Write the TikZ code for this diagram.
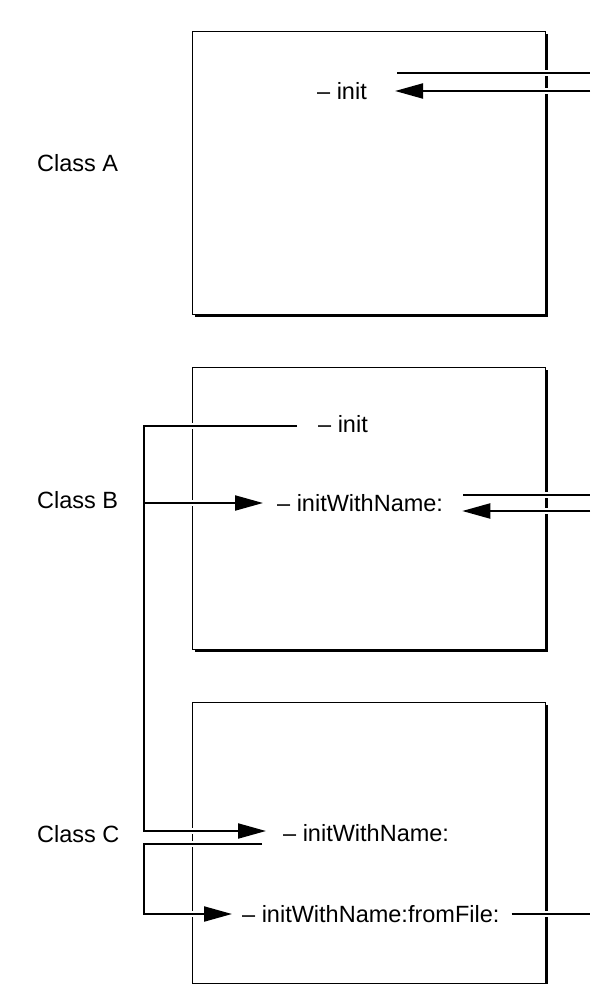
\documentclass[tikz,border=0pt]{standalone}
\usepackage{fontspec}
\setmainfont{Liberation Sans}
\usepackage{tikz}
\usetikzlibrary{positioning}
\usetikzlibrary{arrows.meta,shadows}

\tikzset{
  klasse/.style={draw, line width=1.4pt, fill=white, anchor=north west,
    minimum width=353pt, inner sep=0pt,
    drop shadow={shadow xshift=2pt, shadow yshift=-2pt, opacity=1, fill=black}},
  methode/.style={anchor=west, inner sep=0pt},
  leitung/.style={line width=2.1pt,
    preaction={draw=white, line width=6.5pt, -, shorten <=#1}},
  leitung/.default=0pt
}

\begin{document}
\begin{tikzpicture}[x=1pt, y=-1pt,
  font=\fontsize{23.5}{28}\selectfont,
  >={Triangle[length=28pt,width=15pt]}   % Pfeilspitzen
]
\def\xend{590}
\def\xspine{144}
\useasboundingbox (0,0) rectangle (590,984);

% Rand rechts und senkrechte Leitung links
\coordinate (rand) at (\xend,0);
\coordinate (spine) at (\xspine,0);

% Klassen
\node[klasse, minimum height=283pt] (boxA) at (192,31) {};
\node[klasse, minimum height=282pt] (boxB) at (192,367) {};
\node[klasse, minimum height=281pt] (boxC) at (192,702) {};

\node[methode] (classA) at (37,163) {Class A};
\node[methode] (classB) at (37,500) {Class B};
\node[methode] (classC) at (37,834) {Class C};

% Methoden
\node[methode] (initA) at (317,91) {– init};
\node[methode] (initB) at (318,424) {– init};
\node[methode] (nameB) at (277,503) {– initWithName:};
\node[methode] (nameC) at (283,833) {– initWithName:};
\node[methode] (fileC) at (242,914) {– initWithName:fromFile:};

% Klasse A
\draw[leitung] ([xshift=30pt,yshift=18pt]initA.east) coordinate (a1) -- (a1 -| rand);
\draw[leitung,->] (initA.east -| rand) -- ([xshift=28pt]initA.east);

% Klasse B
\draw[leitung] ([xshift=20pt,yshift=8pt]nameB.east) coordinate (b1) -- (b1 -| rand);
\coordinate (b2) at ([xshift=19pt,yshift=-8pt]nameB.east);
\draw[leitung,->] (b2 -| rand) -- (b2);

% von B: init nach C: initWithName:
\draw[leitung,->] ([xshift=-21pt,yshift=-2pt]initB.west) coordinate (s1)
  -- (s1 -| spine) |- ([xshift=-17pt,yshift=2pt]nameC.west);
\draw[leitung=4pt,->] (nameB.west -| spine) -- ([xshift=-14pt]nameB.west);

% Klasse C
\draw[leitung,->] ([xshift=-21pt,yshift=-11pt]nameC.west) coordinate (c1)
  -- (c1 -| spine) |- ([xshift=-10pt]fileC.west);
\draw[leitung] ([xshift=12pt]fileC.east) -- (fileC.east -| rand);
\end{tikzpicture}
\end{document}
